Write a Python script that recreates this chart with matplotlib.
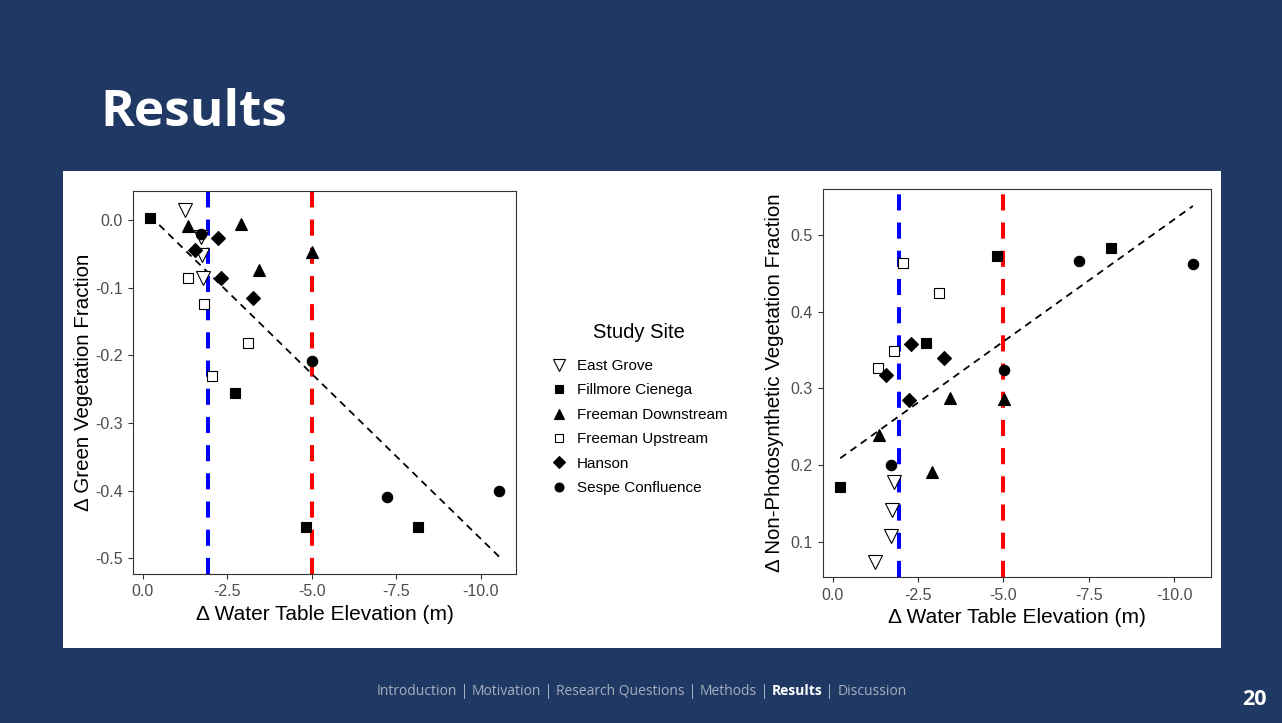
import numpy as np
import matplotlib
matplotlib.use("Agg")
import matplotlib.pyplot as plt

# drop in water table (m), shown on a reversed axis
sites = ["East Grove", "Fillmore Cienega", "Freeman Downstream",
         "Freeman Upstream", "Hanson", "Sespe Confluence"]

eg_drop = [1.25, 1.72, 1.74, 1.79]
eg_gv = [0.015, -0.025, -0.052, -0.085]
eg_npv = [0.074, 0.108, 0.141, 0.178]

fc_drop = [0.22, 2.72, 4.82, 8.14]
fc_gv = [0.003, -0.255, -0.453, -0.453]
fc_npv = [0.171, 0.359, 0.473, 0.483]

fd_drop = [1.35, 2.90, 3.45, 5.02]
fd_gv = [-0.008, -0.006, -0.073, -0.047]
fd_npv = [0.239, 0.191, 0.288, 0.286]

fu_drop = [1.34, 1.81, 2.05, 3.12]
fu_gv = [-0.086, -0.124, -0.231, -0.181]
fu_npv = [0.326, 0.349, 0.464, 0.425]

ha_drop = [1.55, 2.24, 2.30, 3.25]
ha_gv = [-0.044, -0.026, -0.085, -0.115]
ha_npv = [0.317, 0.285, 0.358, 0.339]

sc_drop = [1.71, 5.01, 7.21, 10.55]
sc_gv = [-0.020, -0.208, -0.409, -0.400]
sc_npv = [0.200, 0.324, 0.466, 0.462]

thresholds = [-1.93, -5.0]
xticks = [0.0, -2.5, -5.0, -7.5, -10.0]
nav_items = ["Introduction", "Motivation", "Research Questions", "Methods", "Results", "Discussion"]

drops = [eg_drop, fc_drop, fd_drop, fu_drop, ha_drop, sc_drop]
gvs = [eg_gv, fc_gv, fd_gv, fu_gv, ha_gv, sc_gv]
npvs = [eg_npv, fc_npv, fd_npv, fu_npv, ha_npv, sc_npv]

# ggplot-ish shapes: 6, 15, 17, 0, 18, 16
styles = [
    dict(marker="v", mfc="white", mec="black", ms=10.5, mew=0.8),
    dict(marker="s", mfc="black", mec="black", ms=7.5, mew=0.8),
    dict(marker="^", mfc="black", mec="black", ms=9, mew=0.8),
    dict(marker="s", mfc="white", mec="black", ms=7.5, mew=0.8),
    dict(marker="D", mfc="black", mec="black", ms=7, mew=0.8),
    dict(marker="o", mfc="black", mec="black", ms=7.5, mew=0.8),
]

navy = "#203864"
plt.rcParams["font.family"] = ["Liberation Sans", "DejaVu Sans"]

fig = plt.figure(figsize=(12.82, 7.23), dpi=100, facecolor=navy)

# white card behind the two plots
card = fig.add_axes([0.0491, 0.1037, 0.9033, 0.6598], zorder=-5)
card.set_facecolor("white")
card.set_xticks([])
card.set_yticks([])
for s in card.spines.values():
    s.set_visible(False)

fig.text(0.078, 0.826, "Results", color="white", fontsize=37, fontweight="bold",
         family="Open Sans", ha="left", va="baseline")


def panel(rect, ys, lims, yticks, ylabel, ylabel_x):
    ax = fig.add_axes(rect)
    ax.set_facecolor("white")
    for xv, c in zip(thresholds, ["#0000FF", "#FF0000"]):
        ax.axvline(-xv, color=c, lw=2.9, linestyle=(0, (4, 3)), zorder=1)
    all_x = np.concatenate(drops)
    all_y = np.concatenate(ys)
    b, a = np.polyfit(all_x, all_y, 1)
    xx = np.array([all_x.min(), all_x.max()])
    ax.plot(xx, a + b * xx, color="black", lw=1.3, linestyle=(0, (4, 3)), zorder=2)
    for x, y, st, name in zip(drops, ys, styles, sites):
        ax.plot(x, y, linestyle="none", label=name, zorder=3, **st)
    ax.set_xlim(lims[0], lims[1])
    ax.set_ylim(lims[2], lims[3])
    ax.set_xticks([-t for t in xticks])
    ax.set_xticklabels([f"{t:.1f}" for t in xticks])
    ax.set_yticks(yticks)
    ax.set_yticklabels([f"{t:.1f}" for t in yticks])
    ax.tick_params(colors="#333333", labelcolor="#4D4D4D", labelsize=11.5,
                   length=3.5, width=0.8, pad=4)
    for s in ax.spines.values():
        s.set_color("#333333")
        s.set_linewidth(0.8)
    ax.set_xlabel("Δ Water Table Elevation (m)", fontsize=15, labelpad=4)
    ax.set_ylabel(ylabel, fontsize=14.8, va="center")
    ax.yaxis.set_label_coords(ylabel_x, 0.5)
    return ax


ax1 = panel([0.1037, 0.2061, 0.2988, 0.5297], gvs, (-0.29, 11.04, -0.523, 0.043),
            [0.0, -0.1, -0.2, -0.3, -0.4, -0.5], "Δ Green Vegetation Fraction", -0.128)
ax2 = panel([0.6422, 0.2015, 0.3024, 0.5371], npvs, (-0.275, 11.08, 0.0537, 0.560),
            [0.1, 0.2, 0.3, 0.4, 0.5], "Δ Non-Photosynthetic Vegetation Fraction", -0.125)

handles, labels = ax1.get_legend_handles_labels()
leg = fig.legend(handles, labels, title="Study Site", loc="center left",
                 bbox_to_anchor=(0.418, 0.434), frameon=False, fontsize=11,
                 title_fontsize=14.5, handletextpad=0.6, labelspacing=0.68,
                 handlelength=1.2, markerscale=0.85)
leg.get_title().set_ha("center")
leg._legend_box.sep = 12

# footer navigation
x = 0.2935
parts = []
for i, item in enumerate(nav_items):
    parts.append((item, item == "Results"))
    if i < len(nav_items) - 1:
        parts.append((" | ", False))
renderer = fig.canvas.get_renderer()
for txt, bold in parts:
    t = fig.text(x, 0.044, txt, color="white" if bold else "#A6AEBD", fontsize=10,
                 family="Open Sans", fontweight="bold" if bold else "normal",
                 ha="left", va="center")
    bb = t.get_window_extent(renderer)
    x += bb.width / fig.bbox.width

fig.text(0.988, 0.032, "20", color="white", fontsize=15.5, fontweight="bold",
         family="Open Sans", ha="right", va="center")

fig.savefig("out.png", dpi=100, facecolor=navy)
